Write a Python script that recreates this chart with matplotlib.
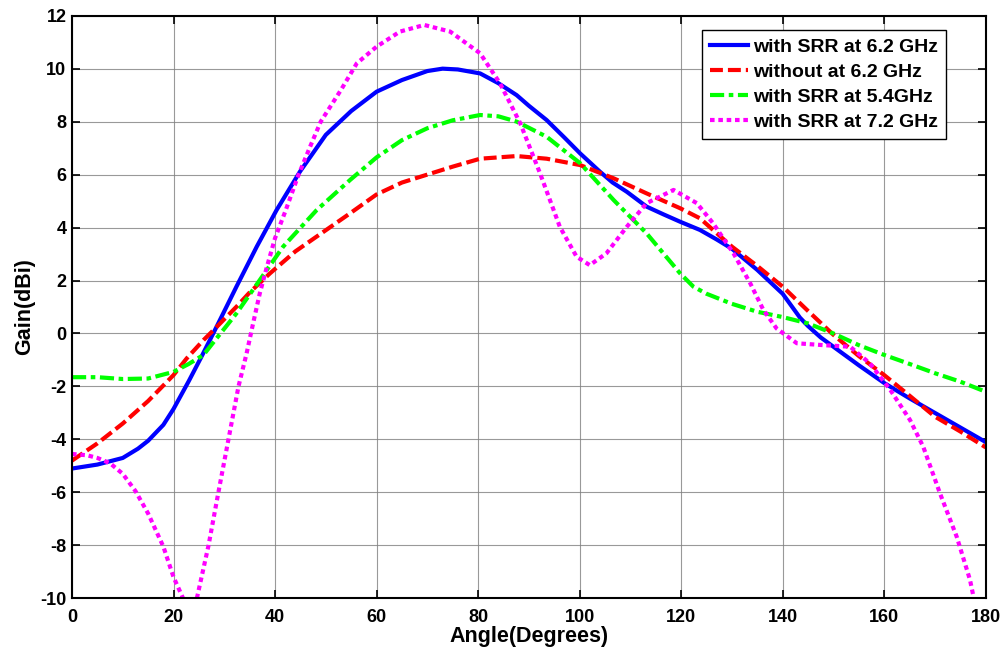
import matplotlib
matplotlib.use("Agg")
import matplotlib.pyplot as plt

# ---- data ----
ang_blue = [0, 5, 10, 13, 15, 18, 20, 23, 25.5, 28.5, 32.4, 36.4, 40.3, 44.9, 50, 55, 60, 65, 70, 73,
            76, 80.4, 84, 87.6, 90, 93.5, 97, 100.1, 104, 106.5, 109.3, 113.2, 116.5, 119.8, 123.7,
            127, 130, 135, 140, 143.4, 145, 147.5, 150, 155, 160, 165, 170, 175, 180]
gain_blue = [-5.1, -4.95, -4.7, -4.35, -4.05, -3.45, -2.85, -1.8, -0.88, 0.26, 1.77, 3.28, 4.66,
             6.11, 7.5, 8.4, 9.13, 9.57, 9.91, 10.0, 9.97, 9.82, 9.45, 9.0, 8.6, 8.06, 7.4, 6.8,
             6.11, 5.7, 5.35, 4.79, 4.5, 4.22, 3.91, 3.55, 3.2, 2.4, 1.5, 0.6, 0.28, -0.15, -0.5,
             -1.2, -1.87, -2.45, -3.0, -3.55, -4.1]

ang_red = [0, 5, 10, 15, 20, 22.6, 25.9, 28, 32.4, 35, 39, 44, 48.2, 54.8, 60, 65, 70, 75, 80.4,
           87.6, 93.5, 100.1, 106.7, 113.2, 119.8, 123.7, 130, 135, 140, 145, 150, 155, 160, 165,
           170, 175, 180]
gain_red = [-4.8, -4.15, -3.4, -2.55, -1.57, -0.94, -0.25, 0.15, 1.01, 1.55, 2.27, 3.1, 3.66, 4.54,
            5.25, 5.7, 6.0, 6.3, 6.6, 6.7, 6.6, 6.36, 5.86, 5.29, 4.73, 4.35, 3.28, 2.55, 1.77,
            0.85, -0.05, -0.85, -1.57, -2.35, -3.14, -3.7, -4.3]

ang_green = [0, 5, 10, 15, 20, 23, 25.9, 28, 30, 32.4, 37, 41.6, 48.2, 54.8, 60, 65, 70, 75, 80.4,
             84, 87.6, 93.5, 100.1, 106.7, 113.2, 119.8, 122.4, 125, 130, 135, 140, 145, 150, 155,
             160, 165, 170, 175, 180]
gain_green = [-1.65, -1.65, -1.72, -1.7, -1.45, -1.15, -0.81, -0.3, 0.18, 0.76, 2.02, 3.28, 4.66,
              5.8, 6.65, 7.3, 7.75, 8.05, 8.25, 8.2, 8.0, 7.43, 6.43, 5.04, 3.78, 2.27, 1.77, 1.5,
              1.12, 0.82, 0.62, 0.38, 0.0, -0.44, -0.81, -1.15, -1.5, -1.82, -2.2]

ang_mag = [0, 3, 5, 7.5, 10, 12.5, 15, 18, 20, 22, 23.3, 24.6, 26.9, 28.8, 30.8, 32.8, 34.4, 35.7,
           37, 38.4, 40, 42, 44.6, 46.9, 49, 51.5, 53, 56.1, 60, 64.6, 69.4, 74.5, 80.4, 84.3, 88.3,
           92.2, 96.1, 99.4, 102, 105.3, 109.3, 113.2, 118.5, 123.1, 126.3, 130.3, 133.6, 136.2,
           138.8, 142.8, 148, 153.3, 157.2, 161.2, 165.1, 167.7, 171, 174.3, 176.9, 177.6, 180]
gain_mag = [-4.55, -4.6, -4.7, -4.9, -5.3, -5.95, -6.8, -8.05, -9.2, -10.05, -10.5, -10.0, -8.0,
            -6.04, -4.02, -2.0, -0.75, 0.4, 1.52, 2.52, 3.6, 4.6, 5.98, 7.05, 8.0, 8.75, 9.2, 10.2,
            10.83, 11.4, 11.65, 11.4, 10.58, 9.45, 7.94, 6.05, 4.03, 2.9, 2.58, 3.03, 4.03, 4.92,
            5.42, 4.92, 4.16, 3.03, 1.9, 0.89, 0.19, -0.37, -0.44, -0.5, -1.13, -2.13, -3.27,
            -4.28, -6.04, -7.68, -9.3, -9.94, -11.5]

labels = ["with SRR at 6.2 GHz", "without at 6.2 GHz", "with SRR at 5.4GHz", "with SRR at 7.2 GHz"]
xticks = list(range(0, 181, 20))
yticks = list(range(-10, 13, 2))

plt.rcParams['font.family'] = ['Liberation Sans', 'DejaVu Sans']
plt.rcParams['font.weight'] = 'bold'
plt.rcParams['axes.unicode_minus'] = False

fig = plt.figure(figsize=(10.06, 6.54), dpi=100)
ax = fig.add_axes([72 / 1006, 1 - 598.3 / 654, (985.7 - 72) / 1006, (598.3 - 15.7) / 654])

lw = 3.0
ax.plot(ang_blue, gain_blue, color='#0000ff', lw=lw, label=labels[0], solid_joinstyle='round')
l2, = ax.plot(ang_red, gain_red, color='#ff0000', lw=lw, label=labels[1])
l2.set_dashes([3.1, 1.2])
l3, = ax.plot(ang_green, gain_green, color='#00ff00', lw=lw, label=labels[2])
l3.set_dashes([3.4, 1.1, 1.1, 1.1])
l4, = ax.plot(ang_mag, gain_mag, color='#ff00ff', lw=lw, label=labels[3])
l4.set_dashes([1.1, 0.9])

ax.set_xlim(0, 180)
ax.set_ylim(-10, 12)
ax.set_xticks(xticks)
ax.set_yticks(yticks)
ax.tick_params(direction='in', length=6, width=1.2, top=True, right=True, labelsize=13)
ax.tick_params(axis='x', pad=8)
ax.tick_params(axis='y', pad=4)
for lab in ax.get_xticklabels() + ax.get_yticklabels():
    lab.set_fontweight('bold')
ax.grid(True, color='0.5', lw=0.8, alpha=0.8)
ax.set_axisbelow(True)
for s in ax.spines.values():
    s.set_linewidth(1.5)

ax.set_xlabel('Angle(Degrees)', fontsize=15.5, fontweight='bold', labelpad=0)
ax.set_ylabel('Gain(dBi)', fontsize=15.5, fontweight='bold', labelpad=4)

leg = ax.legend(loc='upper right', bbox_to_anchor=(946 / 1006, 1 - 30 / 654),
                bbox_transform=fig.transFigure, borderaxespad=0, fancybox=False,
                framealpha=1, edgecolor='black', handlelength=1.95, handletextpad=0.25,
                labelspacing=0.38, borderpad=0.42, prop={'size': 14, 'weight': 'bold'})
leg.get_frame().set_linewidth(1.0)

fig.savefig('out.png', dpi=100)
